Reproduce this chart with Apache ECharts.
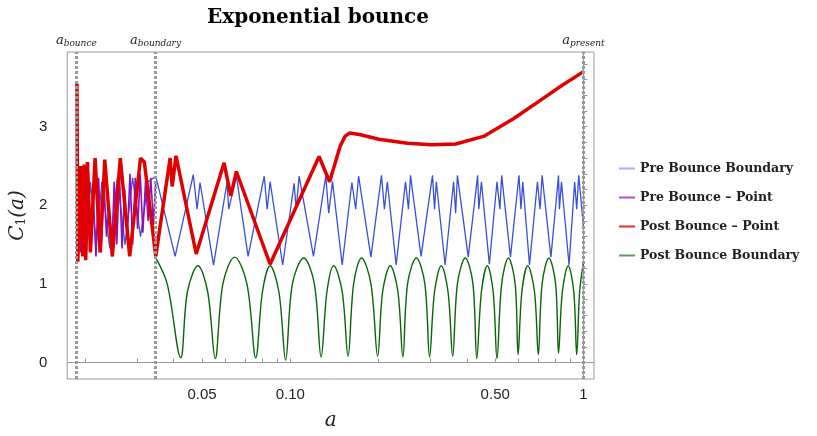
<!DOCTYPE html>
<html>
<head>
<meta charset="utf-8">
<script src="https://cdn.jsdelivr.net/npm/echarts@6/dist/echarts.min.js"></script>
<style>body{margin:0}#main{width:817px;height:436px}</style>
</head>
<body>
<div id="main"></div>
<script>
// x values are log10(a)
const preBoundaryX = [-1.725,-1.715,-1.705,-1.695,-1.682,-1.662,-1.643,-1.616,-1.590,-1.564,-1.538,-1.511,-1.485,-1.459,
  -1.393,-1.331,-1.318,-1.308,-1.262,-1.216,-1.210,-1.184,-1.144,-1.089,-1.079,-1.069,-1.026,-0.987,-0.980,-0.970,
  -0.921,-0.879,-0.869,-0.856,-0.823,-0.790,-0.777,-0.767,-0.725,-0.689,-0.679,-0.669,-0.639,-0.607,-0.597,-0.590,
  -0.554,-0.515,-0.508,-0.502,-0.472,-0.443,-0.436,-0.430,-0.393,-0.361,-0.357,-0.348,-0.321,-0.295,-0.285,-0.279,
  -0.249,-0.220,-0.213,-0.207,-0.184,-0.157,-0.148,-0.141,-0.111,-0.085,-0.082,-0.075,-0.049,-0.030,-0.023,-0.016,0];
const preBoundaryY = [2.2,1.5,2.35,1.4,2.3,1.5,2.3,1.45,2.35,1.5,2.35,1.6,2.3,2.37,
  1.35,2.39,1.95,2.29,1.24,2.29,1.95,2.37,1.35,2.37,1.95,2.3,1.24,2.28,1.95,2.37,
  1.35,2.37,1.9,2.3,1.24,2.29,1.95,2.37,1.34,2.38,1.95,2.3,1.24,2.3,1.95,2.38,
  1.35,2.38,1.95,2.3,1.24,2.3,1.9,2.38,1.34,2.38,1.95,2.3,1.25,2.3,1.95,2.38,
  1.34,2.38,1.95,2.3,1.24,2.3,1.95,2.38,1.34,2.38,1.95,2.3,1.24,2.3,1.95,2.38,1.72];

const prePointX = [-1.725,-1.716,-1.707,-1.698,-1.689,-1.681,-1.672,-1.663,-1.654,-1.645,-1.636,-1.627,-1.618,-1.609,-1.601,
  -1.592,-1.583,-1.574,-1.565,-1.556,-1.547,-1.538,-1.529,-1.521,-1.512,-1.503,-1.494,-1.485,-1.476,-1.467,-1.459];
const prePointY = [2.3,1.4,2.2,1.35,2.4,1.5,2.1,1.35,2.35,1.4,2.3,1.6,2.0,1.35,2.3,
  1.5,2.4,1.45,2.2,1.6,2.4,1.5,2.35,1.7,2.4,1.65,2.3,1.8,2.35,1.75,2.3];

const postPointX = [-1.728,-1.725,-1.715,-1.708,-1.703,-1.698,-1.692,-1.682,-1.666,-1.649,-1.633,-1.607,-1.580,-1.548,-1.511,
  -1.498,-1.459,-1.410,-1.403,-1.390,-1.321,-1.226,-1.203,-1.184,-1.069,-0.902,-0.866,-0.830,-0.813,-0.797,-0.764,
  -0.698,-0.600,-0.518,-0.436,-0.338,-0.239,-0.141,-0.075,0];
const postPointY = [3.55,1.28,2.5,1.35,2.52,1.3,2.55,1.4,2.6,1.4,2.58,1.35,2.6,1.35,2.6,
  2.55,1.35,2.6,2.24,2.63,1.38,2.54,2.12,2.43,1.25,2.62,2.3,2.75,2.88,2.92,2.9,
  2.84,2.79,2.77,2.78,2.88,3.1,3.35,3.52,3.7];

const postBoundaryX = [-1.459,-1.420,-1.374,-1.351,-1.315,-1.282,-1.256,-1.230,-1.190,-1.148,-1.118,-1.095,-1.069,-1.039,
  -1.016,-0.993,-0.954,-0.918,-0.895,-0.875,-0.852,-0.823,-0.803,-0.784,-0.757,-0.725,-0.702,-0.685,-0.659,-0.633,
  -0.616,-0.600,-0.570,-0.541,-0.525,-0.508,-0.485,-0.462,-0.446,-0.430,-0.403,-0.377,-0.364,-0.348,-0.328,-0.308,
  -0.295,-0.279,-0.256,-0.233,-0.223,-0.210,-0.190,-0.167,-0.154,-0.141,-0.118,-0.095,-0.085,-0.072,-0.052,-0.033,
  -0.023,-0.013,0];
const postBoundaryY = [1.33,1.0,0.06,0.9,1.23,0.9,0.05,1.0,1.34,1.0,0.06,0.9,1.23,0.9,
  0.03,1.0,1.33,1.0,0.07,0.9,1.23,0.9,0.08,1.0,1.33,1.0,0.08,0.9,1.23,0.9,
  0.07,1.0,1.33,1.0,0.07,0.9,1.23,0.9,0.08,1.0,1.33,1.0,0.05,0.9,1.23,0.9,
  0.05,1.0,1.33,1.0,0.1,0.9,1.23,0.9,0.1,1.0,1.33,1.0,0.12,0.9,1.23,0.9,
  0.1,0.9,1.27];

const xTickLabels = ['0.05', '0.10', '0.50', '1'];
const xTickValues = [-1.301, -1, -0.301, 0];
const xMinorTicks = [-1.699,-1.523,-1.398,-1.301,-1.222,-1.155,-1.097,-1.046,-1,-0.699,-0.523,-0.398,-0.301,-0.222,-0.155,-0.097,-0.046,0];
const yTicks = [0,0.2,0.4,0.6,0.8,1,1.2,1.4,1.6,1.8,2,2.2,2.4,2.6,2.8,3,3.2,3.4,3.6,3.8];
const markers = [[-1.725, 'bounce'], [-1.459, 'boundary'], [0, 'present']];

const zip = (xs, ys) => xs.map((x, i) => [x, ys[i]]);
const serif = 'DejaVu Serif';

const chart = echarts.init(document.getElementById('main'));
chart.setOption({
  animation: false,
  title: {
    text: 'Exponential bounce', left: 313, top: 3, textAlign: 'center',
    textStyle: { fontFamily: serif, fontWeight: 'bold', fontSize: 20, color: '#000' }
  },
  grid: { left: 46, right: 223, top: 52, bottom: 55, show: true, borderColor: '#999', borderWidth: 1 },
  legend: {
    orient: 'vertical', left: 614, top: 157, itemGap: 16, itemWidth: 16, itemHeight: 2,
    icon: 'rect',
    textStyle: { fontFamily: serif, fontWeight: 'bold', fontSize: 12.5, color: '#222' },
    data: ['Pre Bounce Boundary', 'Pre Bounce \u2013 Point', 'Post Bounce \u2013 Point', 'Post Bounce Boundary']
  },
  xAxis: {
    type: 'value', min: -1.761, max: 0.036,
    name: 'a', nameLocation: 'middle', nameGap: 32,
    nameTextStyle: { fontFamily: serif, fontStyle: 'italic', fontSize: 20, color: '#222' },
    axisLine: { lineStyle: { color: '#999' } },
    axisTick: { customValues: xMinorTicks, length: 4, inside: true, lineStyle: { color: '#999' } },
    axisLabel: {
      customValues: xTickValues, fontSize: 15, color: '#222', fontFamily: 'Liberation Sans',
      formatter: v => xTickLabels[xTickValues.findIndex(t => Math.abs(t - v) < 1e-6)]
    },
    splitLine: { show: false }
  },
  yAxis: {
    type: 'value', min: -0.21, max: 3.95,
    name: '{c|C}{s|1}{c|(a)}', nameLocation: 'middle', nameGap: 18, nameRotate: 90,
    nameTextStyle: { rich: {
      c: { fontFamily: serif, fontStyle: 'italic', fontSize: 20, color: '#222' },
      s: { fontFamily: serif, fontSize: 12, color: '#222', verticalAlign: 'bottom', padding: [8, 0, 0, 0] }
    } },
    axisLine: { lineStyle: { color: '#999' } },
    axisTick: { customValues: yTicks, length: 4, inside: true, lineStyle: { color: '#999' } },
    axisLabel: { customValues: [0, 1, 2, 3], fontSize: 15, color: '#222', fontFamily: 'Liberation Sans', margin: 20 },
    splitLine: { show: false }
  },
  series: [
    {
      name: 'Pre Bounce Boundary', type: 'line', showSymbol: false,
      data: zip(preBoundaryX, preBoundaryY), itemStyle: { color: '#aab2ee' },
      lineStyle: { color: '#3a4fd6', width: 1.3 }
    },
    {
      name: 'Post Bounce Boundary', type: 'line', showSymbol: false, smooth: 0.35,
      data: zip(postBoundaryX, postBoundaryY), itemStyle: { color: '#5a9a5a' },
      lineStyle: { color: '#0a640a', width: 1.4 },
      markLine: {
        silent: true, symbol: 'none',
        lineStyle: { color: '#999', type: [3, 2], width: 3 },
        label: {
          position: 'end', distance: 4, formatter: p => '{i|a}{s|' + markers[p.dataIndex][1] + '}',
          rich: {
            i: { fontFamily: serif, fontStyle: 'italic', fontSize: 13, color: '#222' },
            s: { fontFamily: serif, fontStyle: 'italic', fontSize: 9, color: '#222', padding: [6, 0, 0, 0] }
          }
        },
        data: markers.map(m => ({ xAxis: m[0] }))
      }
    },
    {
      name: 'Pre Bounce \u2013 Point', type: 'line', showSymbol: false,
      data: zip(prePointX, prePointY), itemStyle: { color: '#b44ad8' },
      lineStyle: { color: '#8b10c0', width: 1.6 }
    },
    {
      name: 'Post Bounce \u2013 Point', type: 'line', showSymbol: false,
      data: zip(postPointX, postPointY), itemStyle: { color: '#e03030' },
      lineStyle: { color: '#e00000', width: 3.5 }
    }
  ]
});
</script>
</body>
</html>
